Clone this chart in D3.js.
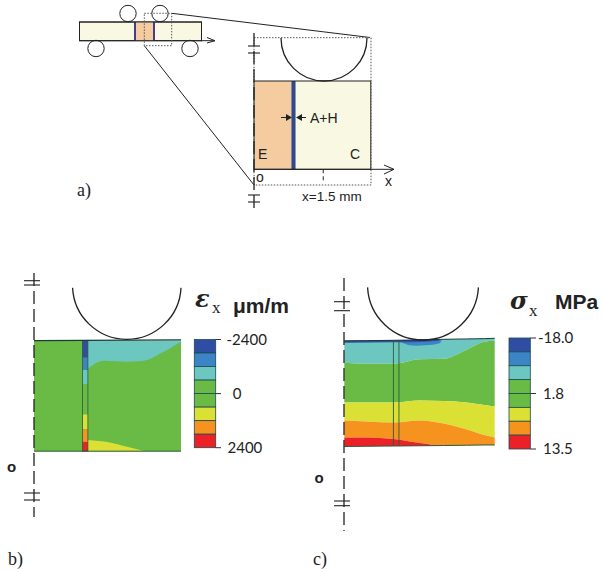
<!DOCTYPE html>
<html>
<head>
<meta charset="utf-8">
<script src="https://cdn.jsdelivr.net/npm/d3@7"></script>
<style>
  html, body { margin: 0; padding: 0; background: #fff; }
  svg { display: block; }
</style>
</head>
<body>
<svg id="chart" width="604" height="572"></svg>
<script>
// colour bands of the legend, compressive to tensile
const legendBands = [0, 1, 2, 3, 4, 5, 6, 7];
const bandColors = ["#2f4ea3", "#3b84c6", "#6cc7c1", "#69bb45", "#69bb45", "#dbe034", "#f6921e", "#ec2027"];
const strainLabels = ["-2400", "0", "2400"];
const stressLabels = ["-18.0", "1.8", "13.5"];
const labelLevels = [0, 4, 8];

// strain panel, all values in mm
const strainDepth = 2.26;
const strainStations = [1.10, 1.42, 1.90, 2.24, 2.58, 3.0];
const strainCyanLower = [0.57, 0.41, 0.43, 0.41, 0.26, 0.02];
const strainYellowX = [1.10, 1.55, 1.90, 2.27];
const strainYellowTop = [2.03, 2.08, 2.17, 2.26];
const strainLayerEdges = [0, 0.35, 0.60, 0.89, 1.51, 1.81, 2.07, 2.26];
const strainLayerColors = [0, 1, 2, 3, 5, 6, 7];

// stress panel
const stressStations = [0, 0.45, 0.98, 1.51, 1.98, 2.44, 2.79, 3.0];
const stressTop = [0.05, 0.047, 0.04, 0.033, 0.02, 0.013, 0.007, 0];
const stressCyanLower = [0.49, 0.51, 0.51, 0.42, 0.41, 0.23, 0.07, 0.05];
const stressGreenLower = [1.28, 1.28, 1.28, 1.24, 1.25, 1.28, 1.33, 1.36];
const stressYellowLower = [1.64, 1.66, 1.68, 1.64, 1.70, 1.82, 1.93, 1.98];
const stressOrangeLower = [1.98, 1.98, 2.01, 2.09, 2.14, 2.135, 2.13, 2.13];
const stressBottom = [2.16, 2.155, 2.15, 2.145, 2.14, 2.135, 2.13, 2.13];
const stressBlobX = [0.98, 1.16, 1.3, 1.45, 1.6, 1.75, 1.9, 1.94];
const stressBlobLower = [0.05, 0.09, 0.14, 0.15, 0.14, 0.13, 0.10, 0.05];
const stressCapX = [0, 0.98, 1.5, 1.9];
const stressCapLower = [0.09, 0.08, 0.075, 0.05];
const stressLayer = [0.98, 1.09];

// specimen sketch, mm from the symmetry line
const sketchWidth = 2.53;
const sketchDepth = 1.91;
const sketchLayer = [0.81, 0.9];
const sketchTick = 1.5;

const svg = d3.select("#chart");
const serif = "'Liberation Serif', serif";
const sans = "'Liberation Sans', Arial, sans-serif";
const tickFont = "Lato, sans-serif";
const symbolFont = "'DejaVu Serif', serif";

function line(g, x1, y1, x2, y2, w, color, dash) {
    return g.append("line")
        .attr("x1", x1).attr("y1", y1).attr("x2", x2).attr("y2", y2)
        .attr("stroke", color || "#222")
        .attr("stroke-width", w || 1)
        .attr("stroke-dasharray", dash || null);
}

function text(g, x, y, s, size, family, extra) {
    const t = g.append("text")
        .attr("x", x).attr("y", y)
        .attr("font-size", size)
        .attr("font-family", family)
        .attr("fill", "#222")
        .text(s);
    if (extra) extra(t);
    return t;
}

// arc of a roller, from a1 to a2 degrees clockwise from the top
function roller(g, cx, cy, r, a1, a2) {
    const arc = d3.arc().innerRadius(r).outerRadius(r)
        .startAngle(a1 * Math.PI / 180).endAngle(a2 * Math.PI / 180);
    g.append("path")
        .attr("transform", `translate(${cx},${cy})`)
        .attr("d", arc())
        .attr("fill", "none")
        .attr("stroke", "#222")
        .attr("stroke-width", 1.3);
}

// dashed symmetry axis with the two break marks
function symmetryAxis(g, x, y1, y2, breaks, left, right) {
    line(g, x, y1, x, y2, 1.3, "#222", "13 5");
    breaks.forEach(b => line(g, left, b, right, b, 1.1));
}

function band(g, x, y, xs, upper, lower, color) {
    const area = d3.area()
        .x(i => x(xs[i]))
        .y0(i => y(upper[i]))
        .y1(i => y(lower[i]))
        .curve(d3.curveMonotoneX);
    g.append("path")
        .attr("d", area(d3.range(xs.length)))
        .attr("fill", color);
}

function legend(g, x0, x1, y0, y1, labels, labelX, tickEnd) {
    const yBand = d3.scaleBand().domain(legendBands).range([y0, y1]);
    const yLevel = d3.scaleLinear().domain([0, 8]).range([y0, y1]);
    g.selectAll(".leg").data(legendBands).enter().append("rect")
        .attr("x", x0)
        .attr("y", d => yBand(d))
        .attr("width", x1 - x0)
        .attr("height", yBand.bandwidth())
        .attr("fill", d => bandColors[d])
        .attr("stroke", "#1f4a52")
        .attr("stroke-width", 0.8);
    labelLevels.forEach((lv, i) => {
        line(g, x1, yLevel(lv), tickEnd, yLevel(lv), 1, "#333");
        text(g, labelX[i], yLevel(lv) + 5, labels[i], 15, tickFont);
    });
}

// ---------- a) sketch
const a = svg.append("g");

// overview beam
const beamX = d3.scaleLinear().domain([-3, 3]).range([79.5, 201.5]);
a.append("rect").attr("x", beamX(-3)).attr("y", 22).attr("width", beamX(3) - beamX(-3)).attr("height", 18.7)
    .attr("fill", "#f9f8e3").attr("stroke", "#222");
a.append("rect").attr("x", 135).attr("y", 22).attr("width", 19).attr("height", 18.7).attr("fill", "#f5cba0");
line(a, 135, 22, 135, 40.7, 2, "#4b3a8c");
line(a, 154, 22, 154, 40.7, 2, "#4b3a8c");
a.append("rect").attr("x", beamX(-3)).attr("y", 22).attr("width", beamX(3) - beamX(-3)).attr("height", 18.7)
    .attr("fill", "none").attr("stroke", "#222");
[[128, 13.5], [160, 13.5], [96, 48.5], [190, 48.5]].forEach(c => {
    a.append("circle").attr("cx", c[0]).attr("cy", c[1]).attr("r", 8.2)
        .attr("fill", "none").attr("stroke", "#222");
});
line(a, 201, 40.7, 215, 40.7);
a.append("path").attr("d", "M207,37.5L215,40.7L207,43").attr("fill", "none").attr("stroke", "#222");
a.append("rect").attr("x", 144.3).attr("y", 13.3).attr("width", 27.4).attr("height", 32.4)
    .attr("fill", "none").attr("stroke", "#555").attr("stroke-dasharray", "1.5 1.5");
line(a, 171.7, 13.3, 370, 37.5);
line(a, 144.3, 45.7, 254, 185);

// enlarged detail
const xA = d3.scaleLinear().domain([0, sketchWidth]).range([254, 370.8]);
const yA = d3.scaleLinear().domain([0, sketchDepth]).range([81, 169.3]);
a.append("rect").attr("x", xA(0)).attr("y", yA(0)).attr("width", xA(sketchLayer[0]) - xA(0)).attr("height", yA(sketchDepth) - yA(0)).attr("fill", "#f5cba0");
a.append("rect").attr("x", xA(sketchLayer[1])).attr("y", yA(0)).attr("width", xA(sketchWidth) - xA(sketchLayer[1])).attr("height", yA(sketchDepth) - yA(0)).attr("fill", "#f9f8e3");
a.append("rect").attr("x", xA(sketchLayer[0])).attr("y", yA(0)).attr("width", xA(sketchLayer[1]) - xA(sketchLayer[0])).attr("height", yA(sketchDepth) - yA(0)).attr("fill", "#2f4a86");
a.append("rect").attr("x", xA(0)).attr("y", yA(0)).attr("width", xA(sketchWidth) - xA(0)).attr("height", yA(sketchDepth) - yA(0))
    .attr("fill", "none").attr("stroke", "#222");
a.append("rect").attr("x", 254).attr("y", 37.7).attr("width", 117).attr("height", 147.3)
    .attr("fill", "none").attr("stroke", "#555").attr("stroke-dasharray", "1.5 1.5");
roller(a, 324, 38, 43, 90, 270);
symmetryAxis(a, 254, 33, 213, [46, 53, 195, 202], 248, 260);
line(a, 254, 169.3, 393, 169.3);
a.append("path").attr("d", "M384,165L394,169.3L384,174").attr("fill", "none").attr("stroke", "#222");
line(a, xA(sketchTick), 169.3, xA(sketchTick), 181, 1, "#222", "4 3");
// A+H arrows
line(a, 281, 117.5, 291, 117.5);
a.append("path").attr("d", "M286,114L292,117.5L286,121Z").attr("fill", "#222");
line(a, 297, 117.5, 306, 117.5);
a.append("path").attr("d", "M302,114L296,117.5L302,121Z").attr("fill", "#222");
text(a, 310, 122.5, "A+H", 14, sans);
text(a, 258, 159, "E", 14, sans);
text(a, 350, 159, "C", 14, sans);
text(a, 256, 182, "o", 14, sans);
text(a, 385, 186, "x", 14, sans);
text(a, 302, 201, "x=1.5 mm", 13.5, sans);
text(a, 77, 196, "a)", 18, serif);

// ---------- b) strain
const b = svg.append("g");
const xB = d3.scaleLinear().domain([0, 3]).range([34, 181]);
const yB = d3.scaleLinear().domain([0, strainDepth]).range([340.7, 451.2]);

b.append("rect").attr("x", xB(0)).attr("y", yB(0)).attr("width", xB(3) - xB(0)).attr("height", yB(strainDepth) - yB(0))
    .attr("fill", bandColors[3]);
band(b, xB, yB, strainStations, strainStations.map(() => 0), strainCyanLower, bandColors[2]);
band(b, xB, yB, strainYellowX, strainYellowTop, strainYellowX.map(() => strainDepth), bandColors[5]);

strainLayerColors.forEach((c, i) => {
    b.append("rect")
        .attr("x", xB(0.99))
        .attr("y", yB(strainLayerEdges[i]))
        .attr("width", xB(1.10) - xB(0.99))
        .attr("height", yB(strainLayerEdges[i + 1]) - yB(strainLayerEdges[i]))
        .attr("fill", bandColors[c]);
});
b.append("rect").attr("x", xB(0.99)).attr("y", yB(0)).attr("width", xB(1.10) - xB(0.99)).attr("height", yB(strainDepth) - yB(0))
    .attr("fill", "none").attr("stroke", "#2c5a3a").attr("stroke-width", 0.8);
line(b, xB(0), yB(0), xB(3), yB(0) - 0.8, 1.2, "#1c3a3a");
line(b, xB(0), yB(strainDepth), xB(3), yB(strainDepth), 1, "#2c5a3a");
roller(b, 126.8, 285, 54.3, 93, 267);
symmetryAxis(b, 34, 273, 517, [280.7, 285, 493, 500], 24, 40);
legend(b, 194.3, 215.7, 339.5, 447.7, strainLabels, [226.5, 232.7, 227.5], 221);
text(b, 195, 307, "ε", 24, symbolFont, t => t.attr("font-weight", "bold").attr("font-style", "italic"));
text(b, 212, 313, "x", 17, serif);
text(b, 233, 312.5, "μm/m", 21, sans, t => t.attr("font-weight", "bold"));
text(b, 7, 471.5, "o", 15, sans, t => t.attr("font-weight", "bold"));
text(b, 8, 565, "b)", 18, serif);

// ---------- c) stress
const c = svg.append("g");
const xC = d3.scaleLinear().domain([0, 3]).range([344.3, 494.7]);
const yC = d3.scaleLinear().domain([0, 2.14]).range([338.3, 445.5]);

band(c, xC, yC, stressStations, stressTop, stressCyanLower, bandColors[2]);
band(c, xC, yC, stressStations, stressCyanLower, stressGreenLower, bandColors[3]);
band(c, xC, yC, stressStations, stressGreenLower, stressYellowLower, bandColors[5]);
band(c, xC, yC, stressStations, stressYellowLower, stressOrangeLower, bandColors[6]);
band(c, xC, yC, stressStations, stressOrangeLower, stressBottom, bandColors[7]);
band(c, xC, yC, stressBlobX, stressBlobX.map(() => 0.04), stressBlobLower, bandColors[1]);
band(c, xC, yC, stressCapX, [0.05, 0.04, 0.03, 0.02], stressCapLower, bandColors[0]);

c.append("path")
    .attr("d", d3.line().x(d => xC(d[0])).y(d => yC(d[1]))(stressStations.map((d, i) => [d, stressTop[i]])))
    .attr("fill", "none").attr("stroke", "#1c3a3a").attr("stroke-width", 1);
c.append("path")
    .attr("d", d3.line().x(d => xC(d[0])).y(d => yC(d[1]))(stressStations.map((d, i) => [d, stressBottom[i]])))
    .attr("fill", "none").attr("stroke", "#2c5a3a").attr("stroke-width", 1);
stressLayer.forEach(v => line(c, xC(v), yC(0.04), xC(v), yC(2.15), 0.9, "#2c5a3a"));
roller(c, 423, 284.5, 55.5, 93, 267);
symmetryAxis(c, 344, 278, 531, [301.7, 310.7, 501, 505.7], 334, 350);
legend(c, 509, 530.3, 338, 449, stressLabels, [538, 543, 543], 536);
text(c, 510, 309, "σ", 24, symbolFont, t => t.attr("font-weight", "bold").attr("font-style", "italic"));
text(c, 529, 316, "x", 17, serif);
text(c, 555, 309, "MPa", 21, sans, t => t.attr("font-weight", "bold"));
text(c, 314.5, 483, "o", 15, sans, t => t.attr("font-weight", "bold"));
text(c, 313, 565, "c)", 18, serif);
</script>
</body>
</html>
